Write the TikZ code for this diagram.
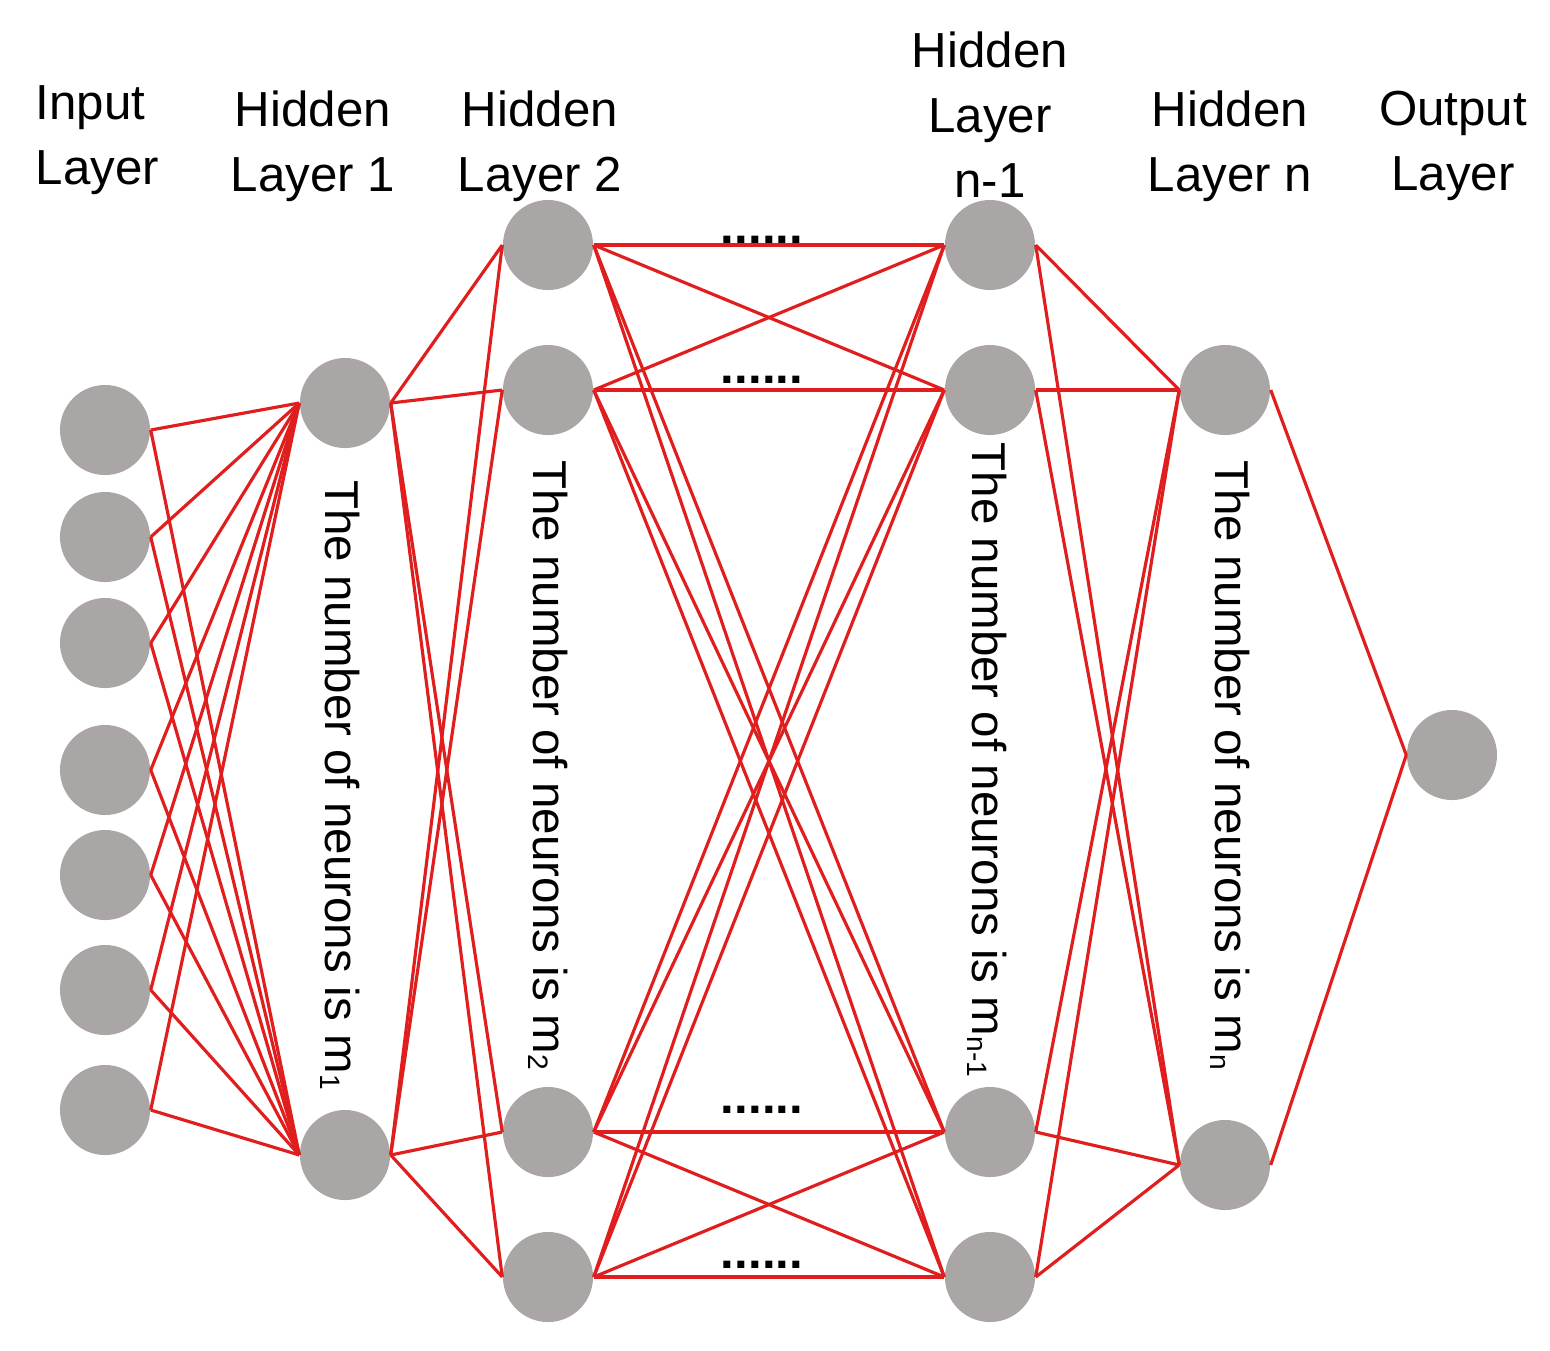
\documentclass[tikz,border=0pt]{standalone}
\usepackage{fontspec}
\setmainfont{Liberation Sans}
\newcommand{\sbs}[1]{\raisebox{-0.2ex}{\fontsize{8}{8}\selectfont #1}}
\begin{document}
\begin{tikzpicture}[x=0.01cm,y=-0.01cm,
  neu/.style={circle,fill={rgb,255:red,170;green,166;blue,165},minimum size=0.9cm,inner sep=0pt},
  con/.style={draw={rgb,255:red,225;green,30;blue,30},line width=0.9pt},
  hd/.style={font=\fontsize{14}{18.5}\selectfont,align=center,anchor=center},
  rt/.style={font=\fontsize{13.5}{16}\selectfont,rotate=-90,anchor=center},
  dt/.style={font=\bfseries\fontsize{14}{14}\selectfont}]
\useasboundingbox (0,0) rectangle (1550,1350);
\foreach \y [count=\i] in {430,537,643,770,875,990,1110} \node[neu] (i\i) at (105,\y) {};
\node[neu] (a1) at (345,403) {}; \node[neu] (a2) at (345,1155) {};
\foreach \y [count=\i] in {245,390,1132,1277} {\node[neu] (b\i) at (548,\y) {}; \node[neu] (c\i) at (990,\y) {};}
\node[neu] (d1) at (1225,390) {}; \node[neu] (d2) at (1225,1165) {};
\node[neu] (o) at (1452,755) {};
\foreach \i in {1,...,7} \foreach \j in {1,2} \draw[con] (i\i.east) -- (a\j.west);
\foreach \i in {1,2} \foreach \j in {1,...,4} \draw[con] (a\i.east) -- (b\j.west);
\foreach \i in {1,...,4} \foreach \j in {1,...,4} \draw[con] (b\i.east) -- (c\j.west);
\foreach \i in {1,...,4} \foreach \j in {1,2} \draw[con] (c\i.east) -- (d\j.west);
\foreach \i in {1,2} \draw[con] (d\i.east) -- (o.west);
\foreach \y [count=\i] in {240,380,1110,1265} \node[dt] (dd\i) at (762,\y) {......};
\node[hd,align=left,anchor=west,inner sep=0pt] (h0) at (35,140) {Input\\Layer};
\node[hd] (h1) at (313,146) {Hidden\\Layer 1};
\node[hd] (h2) at (540,146) {Hidden\\Layer 2};
\node[hd] (h3) at (990,115) {Hidden\\Layer\\n-1};
\node[hd] (h4) at (1230,146) {Hidden\\Layer n};
\node[hd] (h5) at (1453,146) {Output\\Layer};
\node[rt] (t1) at (340,785) {The number of neurons is m\sbs{1}};
\node[rt] (t2) at (548,765) {The number of neurons is m\sbs{2}};
\node[rt] (t3) at (987,760) {The number of neurons is m\sbs{n-1}};
\node[rt] (t4) at (1230,765) {The number of neurons is m\sbs{n}};
\end{tikzpicture}
\end{document}
